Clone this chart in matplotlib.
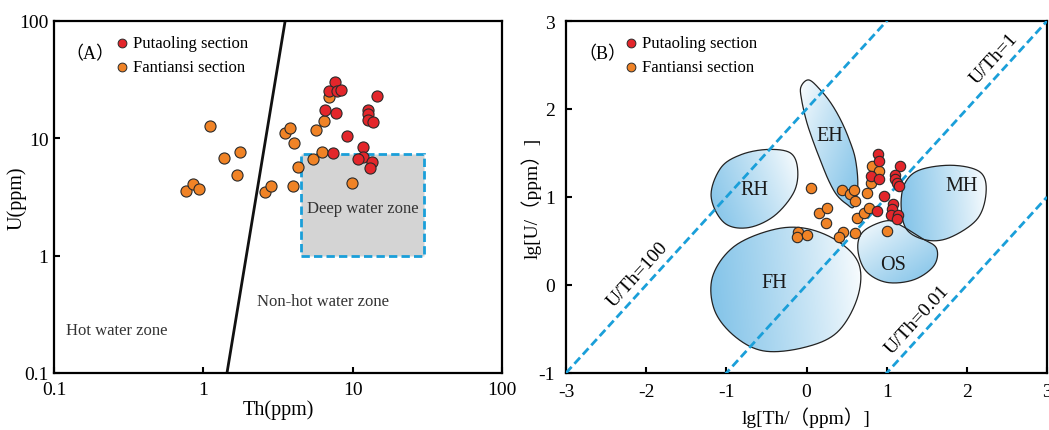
import numpy as np
import matplotlib
matplotlib.use("Agg")
import matplotlib.pyplot as plt
from matplotlib.patches import Rectangle, PathPatch
from matplotlib.path import Path

plt.rcParams['font.family'] = ['Liberation Serif', 'Noto Sans CJK SC', 'DejaVu Sans']
plt.rcParams['axes.unicode_minus'] = False

# ---- data: panel A (Th vs U, ppm) ----
put_th = [7.62, 6.98, 7.89, 8.31, 6.53, 7.69, 14.5, 12.7, 12.6, 12.6, 13.6,
          9.2, 7.43, 11.7, 11.8, 10.9, 13.4, 13.1]
put_u = [30.4, 25.5, 25.5, 25.8, 17.5, 16.4, 22.8, 17.5, 16.1, 14.4, 13.9,
         10.4, 7.45, 8.38, 6.89, 6.67, 6.25, 5.58]
fan_th = [0.77, 0.857, 0.935, 1.10, 1.37, 1.75, 1.69, 2.58, 2.82, 3.51, 3.83,
          4.03, 3.98, 4.32, 5.40, 5.68, 6.23, 6.46, 6.90, 9.96]
fan_u = [3.56, 4.06, 3.70, 12.8, 6.8, 7.65, 4.84, 3.51, 3.95, 11.1, 12.2,
         9.06, 3.93, 5.70, 6.71, 11.8, 7.65, 14.1, 22.4, 4.19]

boundary_th = [1.44, 3.53]
boundary_u = [0.1, 100]
deep_th = [4.5, 30]
deep_u = [1, 7.3]

# ---- data: panel B (lg Th vs lg U) ----
put_lgth = [0.89, 0.90, 0.81, 0.90, 1.17, 1.11, 1.10, 1.13, 1.15, 0.97, 1.08,
            1.07, 0.88, 1.05, 1.14, 1.13]
put_lgu = [1.49, 1.41, 1.24, 1.20, 1.35, 1.25, 1.20, 1.16, 1.13, 1.01, 0.92,
           0.86, 0.84, 0.80, 0.80, 0.75]
fan_lgth = [0.05, 0.44, 0.54, 0.59, 0.60, 0.75, 0.15, 0.26, 0.24, 0.63, 0.72,
            0.78, -0.10, -0.12, 0.00, 0.45, 0.41, 0.60, 1.01, 0.82, 0.91, 0.81]
fan_lgu = [1.10, 1.08, 1.03, 1.08, 0.96, 1.05, 0.82, 0.88, 0.70, 0.76, 0.82,
           0.87, 0.60, 0.55, 0.57, 0.60, 0.55, 0.59, 0.61, 1.35, 1.30, 1.16]

ratio_lines = [100, 1, 0.01]
ratio_labels = ['U/Th=100', 'U/Th=1', 'U/Th=0.01']
ratio_label_x = [-1.98, 2.47, 1.51]

# region outlines (control points), label position, direction of the blue side
regions = {
    'RH': ([-0.49, -0.20, -0.11, -0.16, -0.41, -0.74, -1.03, -1.19, -1.07, -0.82],
           [1.54, 1.50, 1.31, 1.05, 0.78, 0.65, 0.71, 1.01, 1.33, 1.48],
           (-0.65, 1.09), 200),
    'EH': ([-0.07, 0.03, 0.18, 0.31, 0.43, 0.53, 0.61, 0.64, 0.59, 0.50, 0.38,
            0.28, 0.18, 0.08, 0.00, -0.06],
           [2.25, 2.33, 2.21, 2.06, 1.87, 1.66, 1.43, 1.13, 0.89, 0.92, 1.02,
            1.18, 1.40, 1.64, 1.86, 2.10],
           (0.29, 1.70), 320),
    'MH': ([1.42, 1.83, 2.17, 2.24, 2.13, 1.79, 1.50, 1.25, 1.18, 1.23],
           [1.31, 1.36, 1.28, 1.05, 0.75, 0.54, 0.51, 0.63, 0.90, 1.16],
           (1.93, 1.13), 185),
    'OS': ([0.71, 1.00, 1.19, 1.42, 1.62, 1.59, 1.34, 1.00, 0.74, 0.64],
           [0.61, 0.73, 0.67, 0.54, 0.42, 0.22, 0.06, 0.03, 0.16, 0.41],
           (1.08, 0.23), 310),
    'FH': ([-0.90, -0.41, 0.01, 0.42, 0.66, 0.63, 0.38, -0.03, -0.53, -0.90, -1.15, -1.17],
           [0.44, 0.63, 0.64, 0.48, 0.22, -0.16, -0.54, -0.71, -0.75, -0.58, -0.28, 0.10],
           (-0.40, 0.03), 185),
}

RED = '#e3262b'
ORANGE = '#f08326'
EDGE = '#2a2a2a'
BLUE = '#1a9fd9'
FILL_BLUE = np.array([0.50, 0.76, 0.91])


def closed_spline(xs, ys, n=30):
    """Periodic Catmull-Rom curve through the control points."""
    p = np.column_stack([xs, ys])
    m = len(p)
    t = np.linspace(0, 1, n, endpoint=False)[:, None]
    out = []
    for i in range(m):
        p0, p1, p2, p3 = p[i - 1], p[i], p[(i + 1) % m], p[(i + 2) % m]
        seg = 0.5 * (2 * p1 + (-p0 + p2) * t + (2 * p0 - 5 * p1 + 4 * p2 - p3) * t ** 2
                     + (-p0 + 3 * p1 - 3 * p2 + p3) * t ** 3)
        out.append(seg)
    out = np.vstack(out)
    return np.vstack([out, out[:1]])


def style_axes(ax, pad_x, pad_y):
    for s in ax.spines.values():
        s.set_linewidth(1.6)
    ax.tick_params(which='major', direction='in', length=4.5, width=1.5,
                   labelsize=14, top=False, right=False)
    ax.tick_params(axis='x', pad=pad_x)
    ax.tick_params(axis='y', pad=pad_y)
    ax.tick_params(which='minor', length=0)


fig = plt.figure(figsize=(10.49, 4.31), dpi=100)

# ================= Panel A =================
ax1 = fig.add_axes([54 / 1049, 57 / 431, 448 / 1049, 352 / 431])
ax1.set_xscale('log')
ax1.set_yscale('log')
ax1.set_xlim(0.1, 100)
ax1.set_ylim(0.1, 100)
ax1.set_xticks([0.1, 1, 10, 100], ['0.1', '1', '10', '100'])
ax1.set_yticks([0.1, 1, 10, 100], ['0.1', '1', '10', '100'])
style_axes(ax1, 6, 4)

ax1.add_patch(Rectangle((deep_th[0], deep_u[0]), deep_th[1] - deep_th[0],
                        deep_u[1] - deep_u[0], facecolor='#d4d4d4',
                        edgecolor=BLUE, lw=2, linestyle=(0, (3, 1.5)), zorder=1))
ax1.plot(boundary_th, boundary_u, color='#111111', lw=2, zorder=2)

ax1.scatter(fan_th, fan_u, s=64, c=ORANGE, edgecolors=EDGE, linewidths=0.8, zorder=3)
ax1.scatter(put_th, put_u, s=64, c=RED, edgecolors=EDGE, linewidths=0.8, zorder=4)

ax1.text(11.7, 2.55, 'Deep water zone', fontsize=12, color='#333333',
         ha='center', va='center', zorder=5)
ax1.text(6.33, 0.411, 'Non-hot water zone', fontsize=12, color='#333333',
         ha='center', va='center')
ax1.text(0.264, 0.232, 'Hot water zone', fontsize=12, color='#333333',
         ha='center', va='center')

ax1.text(0.08, 0.906, '（A）', transform=ax1.transAxes, fontsize=13,
         ha='center', va='center')
ax1.scatter([0.152], [0.9375], s=40, c=RED, edgecolors=EDGE, linewidths=0.7,
            transform=ax1.transAxes, zorder=5)
ax1.scatter([0.152], [0.869], s=40, c=ORANGE, edgecolors=EDGE, linewidths=0.7,
            transform=ax1.transAxes, zorder=5)
ax1.text(0.176, 0.9375, 'Putaoling section', transform=ax1.transAxes,
         fontsize=12, va='center')
ax1.text(0.176, 0.869, 'Fantiansi section', transform=ax1.transAxes,
         fontsize=12, va='center')

ax1.set_xlabel('Th(ppm)', fontsize=14.5)
ax1.set_ylabel('U(ppm)', fontsize=14.5)
ax1.xaxis.set_label_coords(0.5, -0.075)
ax1.yaxis.set_label_coords(-0.062, 0.5)

# ================= Panel B =================
ax2 = fig.add_axes([566 / 1049, 57 / 431, 481 / 1049, 352 / 431])
ax2.set_xlim(-3, 3)
ax2.set_ylim(-1, 3)
ax2.set_xticks(range(-3, 4))
ax2.set_yticks(range(-1, 4))
style_axes(ax2, 7, 8)

for name, (rx, ry, (lx, ly), ang) in regions.items():
    curve = closed_spline(rx, ry)
    patch = PathPatch(Path(curve), facecolor='none', edgecolor='#222222',
                      lw=0.9, zorder=2)
    ax2.add_patch(patch)
    x0, x1 = curve[:, 0].min(), curve[:, 0].max()
    y0, y1 = curve[:, 1].min(), curve[:, 1].max()
    gx, gy = np.meshgrid(np.linspace(0, 1, 200), np.linspace(0, 1, 200))
    d = np.array([np.cos(np.radians(ang)), np.sin(np.radians(ang))])
    proj = (gx - 0.5) * d[0] + (gy - 0.5) * d[1]
    tt = (proj - proj.min()) / (proj.max() - proj.min())
    tt = np.clip(tt, 0, 1) ** 0.85
    img = (1 - tt[..., None]) * np.ones(3) + tt[..., None] * FILL_BLUE
    im = ax2.imshow(img, extent=[x0, x1, y0, y1], origin='lower',
                    aspect='auto', zorder=1, interpolation='bilinear')
    clip = PathPatch(Path(curve), transform=ax2.transData, facecolor='none',
                     edgecolor='none')
    ax2.add_patch(clip)
    im.set_clip_path(clip)
    ax2.text(lx, ly, name, fontsize=14.5, ha='center', va='center', color='#1a1a1a',
             zorder=6)

ax2.set_xlim(-3, 3)
ax2.set_ylim(-1, 3)

xs = np.array([-3.0, 3.0])
p_a = ax2.transData.transform((0, 0))
p_b = ax2.transData.transform((1, 1))
angle = np.degrees(np.arctan2(p_b[1] - p_a[1], p_b[0] - p_a[0]))
for r, lab, lxp in zip(ratio_lines, ratio_labels, ratio_label_x):
    off = np.log10(r)
    ax2.plot(xs, xs + off, color=BLUE, lw=2, linestyle=(0, (3, 1.5)), zorder=3)
    # put the label just above-left of its line
    px, py = ax2.transData.transform((lxp, lxp + off))
    nx, ny = -np.sin(np.radians(angle)), np.cos(np.radians(angle))
    tx, ty = ax2.transData.inverted().transform((px + 14 * nx, py + 14 * ny))
    ax2.text(tx, ty, lab, fontsize=14, rotation=angle, rotation_mode='anchor',
             ha='center', va='center', zorder=6)

ax2.scatter(fan_lgth, fan_lgu, s=56, c=ORANGE, edgecolors=EDGE, linewidths=0.8, zorder=4)
ax2.scatter(put_lgth, put_lgu, s=56, c=RED, edgecolors=EDGE, linewidths=0.8, zorder=5)

ax2.text(0.075, 0.906, '（B）', transform=ax2.transAxes, fontsize=13,
         ha='center', va='center')
ax2.scatter([0.135], [0.9375], s=40, c=RED, edgecolors=EDGE, linewidths=0.7,
            transform=ax2.transAxes, zorder=6)
ax2.scatter([0.135], [0.869], s=40, c=ORANGE, edgecolors=EDGE, linewidths=0.7,
            transform=ax2.transAxes, zorder=6)
ax2.text(0.159, 0.9375, 'Putaoling section', transform=ax2.transAxes,
         fontsize=12, va='center')
ax2.text(0.159, 0.869, 'Fantiansi section', transform=ax2.transAxes,
         fontsize=12, va='center')

ax2.set_xlabel('lg[Th/（ppm）]', fontsize=14)
ax2.set_ylabel('lg[U/（ppm）]', fontsize=14)
ax2.xaxis.set_label_coords(0.5, -0.094)
ax2.yaxis.set_label_coords(-0.05, 0.5)

fig.savefig('out.png', dpi=100)
